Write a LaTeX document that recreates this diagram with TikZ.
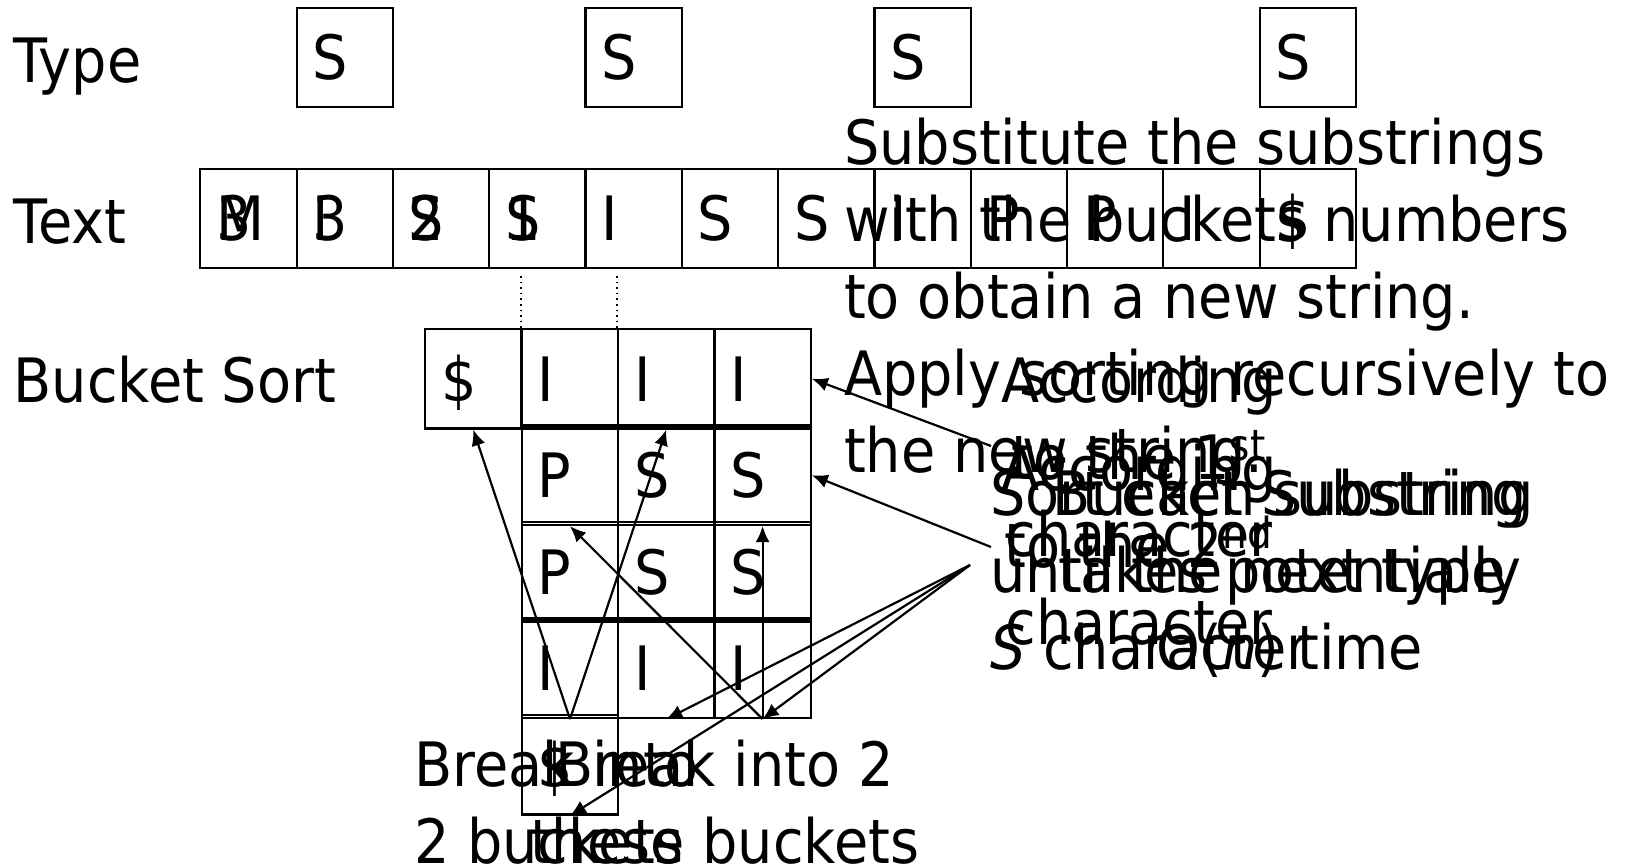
\documentclass[tikz,border=0pt]{standalone}
\usepackage{fontspec}
\setmainfont{DejaVu Sans}[FakeStretch=0.91]
\usepackage{tikz}
\usetikzlibrary{arrows.meta}

\begin{document}
\begin{tikzpicture}[x=0.5pt, y=-0.5pt, line width=1.1pt, >={Latex[length=8pt,width=7pt]},
	font=\fontsize{30.6}{38.5}\selectfont]
	\tikzstyle{every node} = [inner sep=0pt]
	\tikzstyle{charbox} = [draw, rectangle, minimum height=49.5pt, text width=32.15pt, inner xsep=8pt,
		align=left, text height=22.3pt, text depth=0pt]
	\tikzstyle{gridcell} = [charbox, minimum height=49.75pt]
	\tikzstyle{txt} = [anchor=base west, align=left]
	\useasboundingbox (0,0) rectangle (1627,866);
	% row labels
	\node[txt] (type)  at (12.5,83)    {Type};
	\node[txt] (text)  at (12.5,244)   {Text};
	\node[txt] (bsort) at (12.5,402.6) {Bucket Sort};
	% type and text rows
	\foreach \k in {2,5,8,12}
		\node[charbox] (s\k) at ({248.5+96.3*(\k-1)},57.6) {S};
	\foreach \ch [count=\k] in {M,I,S,S,I,S,S,I,P,P,I,\$}
		\node[charbox] (t\k) at ({248.5+96.3*(\k-1)},218.5) {\ch};
	\foreach \dg [count=\k] in {3,3,2,1}
		\node[charbox, draw=none] at (t\k) {\dg};
	% buckets
	\node[gridcell] (d0) at (473.2,378.75) {\$};
	\foreach \rowlist [count=\rnum] in {{I,I,I},{P,S,S},{P,S,S},{I,I,I}}
		\foreach \ch [count=\cnum] in \rowlist
			\node[gridcell] (c\rnum\cnum) at ({473.7+96.3*\cnum},{378.75+96.5*(\rnum-1)}) {\ch};
	\node[gridcell] (c51) at (570,764.75) {\$};
	\draw[dotted, line width=0.8pt] (c11.north west) -- +(0,-54);
	\draw[dotted, line width=0.8pt] (c12.north west) -- +(0,-54);
	% notes (base = last line)
	\node[txt] (subst) at (843,472) {Substitute the substrings\\with the buckets numbers\\to obtain a new string.\\Apply sorting recursively to\\the new string.};
	\node[txt, anchor=base, align=center] (acc1) at (1139,556) {According\\to the 1\textsuperscript{st}\\character};
	\node[txt, anchor=base, align=center] (acc2) at (1139,644) {According\\to the 2\textsuperscript{nd}\\character};
	\node[txt] (sorteach) at (989,669) {Sort each substring\\until the next type\\\textit{S} character};
	\node[txt, anchor=base, align=center] (cost) at (1290,669) {Bucket Substring\\takes potentially\\O(\textit{n}) time};
	\node[txt] (brk1) at (413,863) {Break into\\2 buckets};
	\node[txt, anchor=base, align=center] (brk2) at (724.6,863) {Break into 2\\these buckets};
	% arrows
	\coordinate (ta)  at (991,446);
	\coordinate (tb)  at (991,547);
	\coordinate (fan) at (970,565);
	\draw[->] (c41.south) -- (d0.south);
	\draw[->] (c41.south) -- (c12.south);
	\draw[->] (c43.south) -- (c21.south);
	\draw[->] (c43.south) -- (c23.south);
	\draw[->] (ta) -- (c13.east);
	\draw[->] (tb) -- (c23.east);
	\draw[->] (fan) -- (c42.south);
	\draw[->] (fan) -- (c43.south);
	\draw[->] (fan) -- (c51.south);
\end{tikzpicture}
\end{document}
